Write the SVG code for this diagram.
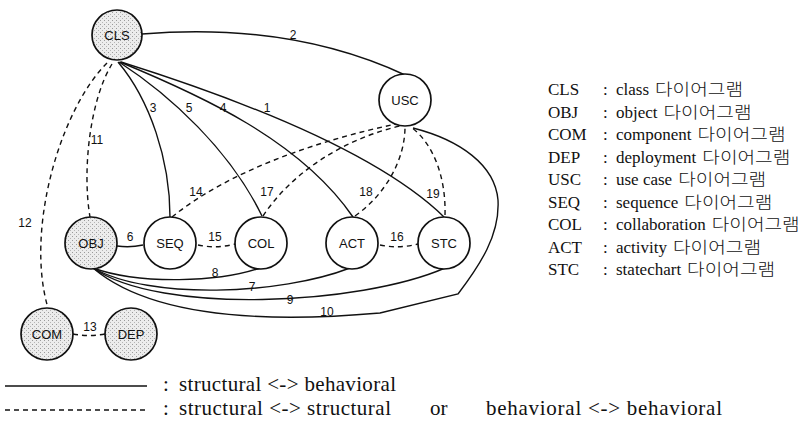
<svg xmlns="http://www.w3.org/2000/svg" width="811" height="427" viewBox="0 0 811 427">
  <defs>
    <!-- stippled fill for the structural diagram nodes -->
    <pattern id="stipple" width="4" height="4" patternUnits="userSpaceOnUse">
      <rect width="4" height="4" fill="#ececec"/>
      <rect x="0" y="0" width="1" height="1" fill="#9a9a9a"/>
      <rect x="2" y="2" width="1" height="1" fill="#b5b5b5"/>
    </pattern>
    <style>
      .node { stroke: #111; stroke-width: 1.7; }
      .plain { fill: #fff; }
      .dotted { fill: url(#stipple); }
      .ntxt { font-family: "Liberation Sans", Arial, sans-serif; font-size: 13px; fill: #111; text-anchor: middle; }
      .edge { fill: none; stroke: #111; stroke-width: 1.4; }
      .dash { stroke-dasharray: 5 4; }
      .elab { font-family: "Liberation Sans", Arial, sans-serif; font-size: 12px; fill: #111; text-anchor: middle; }
      .leg { font-family: "Liberation Serif", "Times New Roman", serif; font-size: 17px; fill: #111; }
      .low { font-family: "Liberation Serif", "Times New Roman", serif; font-size: 21px; fill: #111; }
      .ko { font-family: "Noto Sans CJK KR", sans-serif; font-size: 16px; font-weight: 300; fill: #111; }
    </style>
  </defs>

  <rect width="811" height="427" fill="#fff"/>

  <!-- connectors -->
  <g id="connectors">
    <!-- solid: structural <-> behavioral -->
    <path class="edge" d="M142,34 C240,26 330,40 405,75"/>
    <path class="edge" d="M118,62 C150,100 170,160 170,217"/>
    <path class="edge" d="M119,62 C170,95 230,150 262,216"/>
    <path class="edge" d="M120,62 C200,95 300,140 353,217"/>
    <path class="edge" d="M121,62 C210,90 370,145 444,217"/>
    <path class="edge" d="M117,246 Q130,248 143,245"/>
    <path class="edge" d="M93,268 C140,285 220,282 260,268"/>
    <path class="edge" d="M93,268 C150,300 280,295 350,268"/>
    <path class="edge" d="M93,268 C160,315 360,305 445,268"/>
    <path class="edge" d="M93,268 C160,325 300,320 380,313 L458,294 C480,265 500,235 498,200 C495,165 460,140 413,128"/>
    <!-- dashed: same-kind pairs -->
    <path class="edge dash" d="M112,64 C90,100 82,170 90,217"/>
    <path class="edge dash" d="M107,63 C60,110 25,230 48,308"/>
    <path class="edge dash" d="M172,217 C230,170 320,140 396,124"/>
    <path class="edge dash" d="M263,216 C290,175 340,140 400,126"/>
    <path class="edge dash" d="M355,216 C385,195 405,160 405,127"/>
    <path class="edge dash" d="M445,215 C446,180 435,145 411,127"/>
    <path class="edge dash" d="M198,245 Q216,249 235,244"/>
    <path class="edge dash" d="M380,245 Q399,249 418,244"/>
    <path class="edge dash" d="M73,334 Q89,337 105,334"/>

    <!-- connector numbers -->
    <text class="elab" x="293" y="39">2</text>
    <text class="elab" x="153" y="112">3</text>
    <text class="elab" x="189" y="112">5</text>
    <text class="elab" x="223" y="112">4</text>
    <text class="elab" x="267" y="112">1</text>
    <text class="elab" x="97" y="144">11</text>
    <text class="elab" x="25" y="227">12</text>
    <text class="elab" x="196" y="196">14</text>
    <text class="elab" x="267" y="196">17</text>
    <text class="elab" x="366" y="196">18</text>
    <text class="elab" x="433" y="198">19</text>
    <text class="elab" x="130" y="241">6</text>
    <text class="elab" x="215" y="241">15</text>
    <text class="elab" x="397" y="241">16</text>
    <text class="elab" x="215" y="277">8</text>
    <text class="elab" x="252" y="291">7</text>
    <text class="elab" x="290" y="304">9</text>
    <text class="elab" x="327" y="316">10</text>
    <text class="elab" x="90" y="331">13</text>
  </g>

  <!-- nodes -->
  <g id="CLS"><circle class="node dotted" cx="117" cy="35" r="25"/><text class="ntxt" x="117" y="40">CLS</text></g>
  <g id="USC"><circle class="node plain" cx="405" cy="100" r="26"/><text class="ntxt" x="405" y="105">USC</text></g>
  <g id="OBJ"><circle class="node dotted" cx="91" cy="243" r="26"/><text class="ntxt" x="91" y="248">OBJ</text></g>
  <g id="SEQ"><circle class="node plain" cx="170" cy="243" r="26"/><text class="ntxt" x="170" y="248">SEQ</text></g>
  <g id="COL"><circle class="node plain" cx="261" cy="243" r="26"/><text class="ntxt" x="261" y="248">COL</text></g>
  <g id="ACT"><circle class="node plain" cx="352" cy="243" r="26"/><text class="ntxt" x="352" y="248">ACT</text></g>
  <g id="STC"><circle class="node plain" cx="444" cy="243" r="26"/><text class="ntxt" x="444" y="248">STC</text></g>
  <g id="COM"><circle class="node dotted" cx="47" cy="334" r="26"/><text class="ntxt" x="47" y="339">COM</text></g>
  <g id="DEP"><circle class="node dotted" cx="131" cy="334" r="26"/><text class="ntxt" x="131" y="339">DEP</text></g>

  <!-- abbreviation key: name, colon column, description, Korean suffix -->
  <g id="key">
    <g class="leg">
      <text x="548" y="95">CLS</text><text x="603" y="95">:</text><text x="616" y="95">class</text>
      <text x="548" y="117.5">OBJ</text><text x="603" y="117.5">:</text><text x="616" y="117.5">object</text>
      <text x="548" y="140">COM</text><text x="603" y="140">:</text><text x="616" y="140">component</text>
      <text x="548" y="162.5">DEP</text><text x="603" y="162.5">:</text><text x="616" y="162.5">deployment</text>
      <text x="548" y="185">USC</text><text x="603" y="185">:</text><text x="616" y="185">use case</text>
      <text x="548" y="207.5">SEQ</text><text x="603" y="207.5">:</text><text x="616" y="207.5">sequence</text>
      <text x="548" y="230">COL</text><text x="603" y="230">:</text><text x="616" y="230">collaboration</text>
      <text x="548" y="252.5">ACT</text><text x="603" y="252.5">:</text><text x="616" y="252.5">activity</text>
      <text x="548" y="275">STC</text><text x="603" y="275">:</text><text x="616" y="275">statechart</text>
    </g>
    <g class="ko">
      <text x="655" y="95" textLength="88" lengthAdjust="spacingAndGlyphs">다이어그램</text>
      <text x="663.5" y="117.5" textLength="88" lengthAdjust="spacingAndGlyphs">다이어그램</text>
      <text x="697.5" y="140" textLength="88" lengthAdjust="spacingAndGlyphs">다이어그램</text>
      <text x="702.3" y="162.5" textLength="88" lengthAdjust="spacingAndGlyphs">다이어그램</text>
      <text x="678.2" y="185" textLength="88" lengthAdjust="spacingAndGlyphs">다이어그램</text>
      <text x="684.3" y="207.5" textLength="88" lengthAdjust="spacingAndGlyphs">다이어그램</text>
      <text x="711.7" y="230" textLength="88" lengthAdjust="spacingAndGlyphs">다이어그램</text>
      <text x="673" y="252.5" textLength="88" lengthAdjust="spacingAndGlyphs">다이어그램</text>
      <text x="687.1" y="275" textLength="88" lengthAdjust="spacingAndGlyphs">다이어그램</text>
    </g>
  </g>

  <!-- line style key -->
  <g id="line-key">
    <line class="edge" x1="5" y1="386" x2="147" y2="386" stroke-width="1"/>
    <text class="low" x="163" y="391">:</text>
    <text class="low" x="179" y="391" textLength="217" lengthAdjust="spacing">structural &lt;-&gt; behavioral</text>
    <line class="edge dash" x1="5" y1="410" x2="147" y2="410" stroke-width="1"/>
    <text class="low" x="163" y="415">:</text>
    <text class="low" x="179" y="415" textLength="212" lengthAdjust="spacing">structural &lt;-&gt; structural</text>
    <text class="low" x="430" y="415">or</text>
    <text class="low" x="486" y="415" textLength="236" lengthAdjust="spacing">behavioral &lt;-&gt; behavioral</text>
  </g>
</svg>
